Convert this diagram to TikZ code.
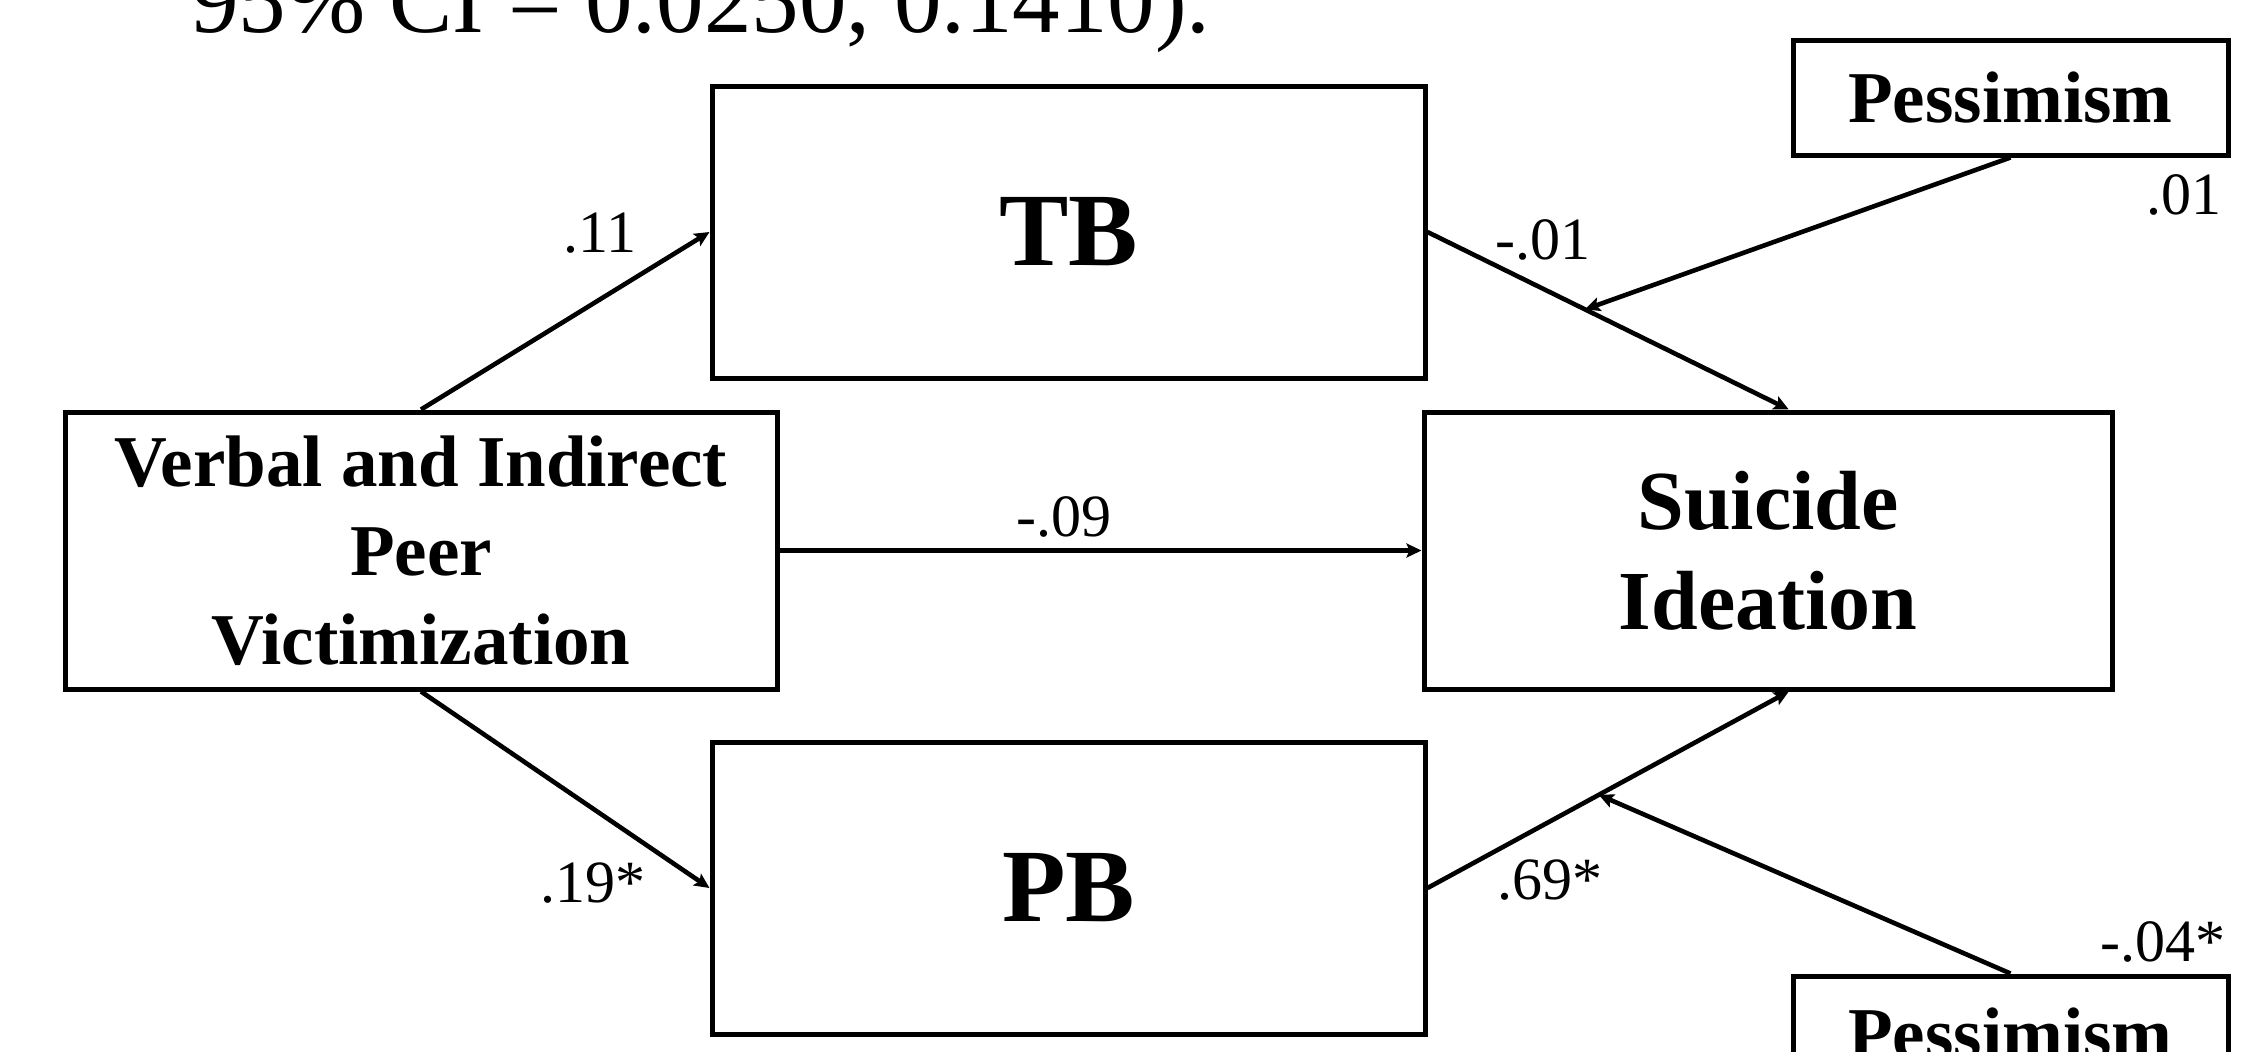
\documentclass[tikz,border=0pt]{standalone}
\usepackage{fontspec}
\setmainfont{Liberation Serif}
\usetikzlibrary{arrows.meta,calc}
\begin{document}
\begin{tikzpicture}[x=0.5pt,y=-0.5pt,
  box/.style={draw, line width=2.5pt, inner sep=0pt, align=center, font=\bfseries},
  conn/.style={line width=2.3pt, -{Stealth[length=7.5pt,width=7pt,inset=1.5pt]}},
  coef/.style={inner sep=0pt, font=\fontsize{30}{36}\selectfont}]
\clip (0,0) rectangle (2251,1051);
\fill[white] (0,0) rectangle (2251,1051);
% title fragment
\node[anchor=base west, inner sep=0pt, font=\fontsize{47.5}{57}\selectfont] (ci) at (191,32) {95\% CI = 0.0250, 0.1410).};
% boxes
\node[box, minimum width=356pt, minimum height=138.5pt, font=\bfseries\fontsize{36.5}{44.5}\selectfont] (VP) at (421,550.5) {Verbal and Indirect\\Peer\\Victimization};
\node[box, minimum width=356.5pt, minimum height=146pt, font=\bfseries\fontsize{52}{60}\selectfont] (TB) at (1068.5,232) {TB};
\node[box, minimum width=356.5pt, minimum height=146pt, font=\bfseries\fontsize{52}{60}\selectfont] (PB) at (1068.5,888) {PB};
\node[box, minimum width=344pt, minimum height=138.5pt, font=\bfseries\fontsize{42}{50}\selectfont] (SI) at (1768,550.5) {Suicide\\Ideation};
\node[box, minimum width=217.5pt, minimum height=57.5pt, font=\bfseries\fontsize{36.5}{44}\selectfont] (P1) at (2010.5,97.5) {Pessimism};
\node[box, minimum width=217.5pt, minimum height=57.5pt, font=\bfseries\fontsize{36.5}{44}\selectfont] (P2) at (2010.5,1033.5) {Pessimism};
% anchor points
\coordinate (SIt) at ($(SI.north west)!0.53!(SI.north east)$);
\coordinate (SIb) at ($(SI.south west)!0.53!(SI.south east)$);
\coordinate (m1) at ($(TB.east)!0.436!(SIt)$);
\coordinate (m2) at ($(PB.east)!0.474!(SIb)$);
% connectors
\draw[conn] (VP.north) -- (TB.west);
\draw[conn] (VP.south) -- (PB.west);
\draw[conn] (VP.east) -- (SI.west);
\draw[conn] (TB.east) -- (SIt);
\draw[conn] (PB.east) -- (SIb);
\draw[conn] (P1.south) -- (m1);
\draw[conn] (P2.north) -- (m2);
% coefficients
\node[coef] (c1) at (600,233) {.11};
\node[coef] (c2) at (593,883) {.19*};
\node[coef] (c3) at (1064,517) {-.09};
\node[coef] (c4) at (1543,240) {-.01};
\node[coef] (c5) at (1550,880) {.69*};
\node[coef] (c6) at (2184,195) {.01};
\node[coef] (c7) at (2163,942) {-.04*};
\end{tikzpicture}
\end{document}
